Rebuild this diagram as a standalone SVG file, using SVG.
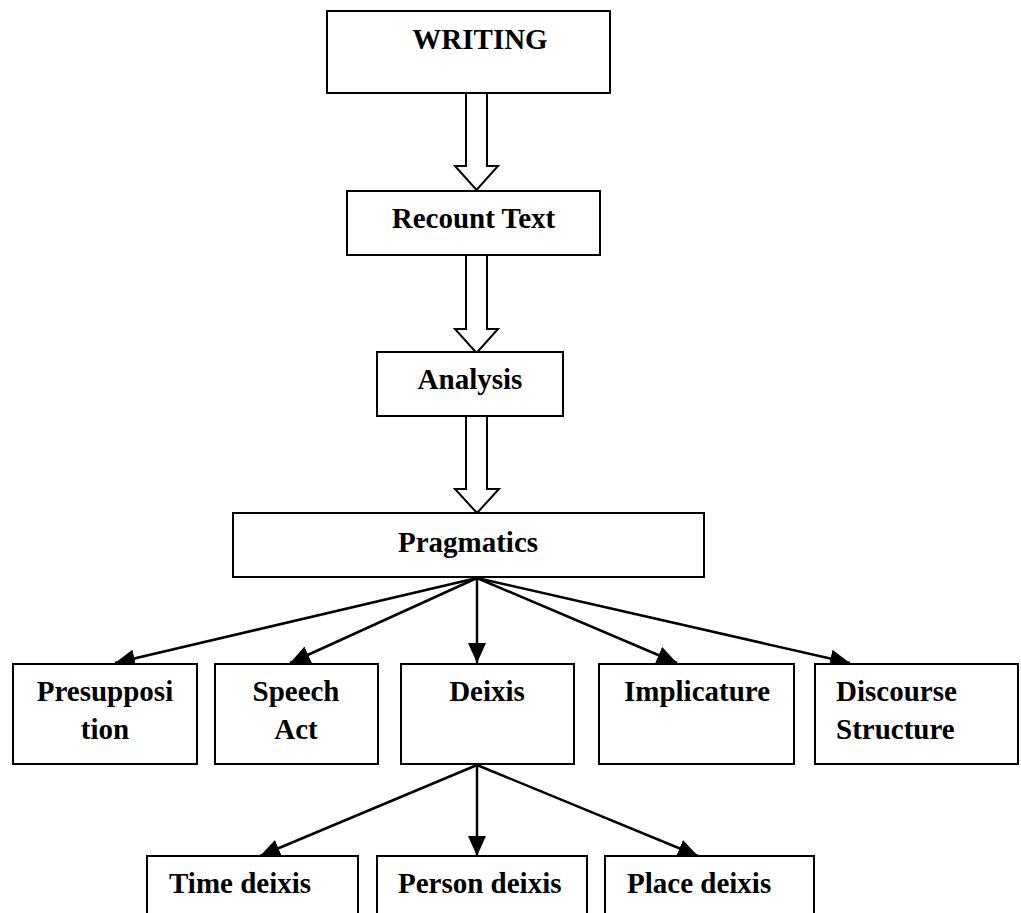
<svg xmlns="http://www.w3.org/2000/svg" width="1021" height="913" viewBox="0 0 1021 913">
<style>
.box{fill:#fff;stroke:#000;stroke-width:2}
.t{font-family:"Liberation Serif","Times New Roman",serif;font-weight:bold;font-size:29px;fill:#000}
.m{text-anchor:middle}
.hollow{fill:#fff;stroke:#000;stroke-width:2;stroke-linejoin:miter}
.ln{stroke:#000;stroke-width:2.5;fill:none}
</style>
<defs>
<marker id="ah" markerUnits="userSpaceOnUse" markerWidth="22" markerHeight="18" refX="20" refY="9" orient="auto">
<path d="M0,0 L20,9 L0,18 Z" fill="#000"/>
</marker>
</defs>
<rect width="1021" height="913" fill="#fff"/>
<g id="connectors">
<polygon class="hollow" points="466,93 487,93 487,166 498,166 476.5,190 455,166 466,166"/>
<polygon class="hollow" points="466,255 487,255 487,329 498,329 476.5,353 455,329 466,329"/>
<polygon class="hollow" points="466,416 487,416 487,489 499,489 477,513 455,489 466,489"/>
<line class="ln" x1="477" y1="578" x2="115" y2="663" marker-end="url(#ah)"/>
<line class="ln" x1="477" y1="578" x2="290" y2="663" marker-end="url(#ah)"/>
<line class="ln" x1="477" y1="578" x2="477" y2="663" marker-end="url(#ah)"/>
<line class="ln" x1="477" y1="578" x2="677" y2="663" marker-end="url(#ah)"/>
<line class="ln" x1="477" y1="578" x2="850" y2="663" marker-end="url(#ah)"/>
<line class="ln" x1="477" y1="765" x2="260" y2="856" marker-end="url(#ah)"/>
<line class="ln" x1="477" y1="765" x2="477" y2="856" marker-end="url(#ah)"/>
<line class="ln" x1="477" y1="765" x2="698" y2="856" marker-end="url(#ah)"/>
</g>
<g id="writing"><rect class="box" x="327" y="11" width="283" height="82"/><text class="t m" x="480" y="49">WRITING</text></g>
<g id="recount"><rect class="box" x="347" y="191" width="253" height="64"/><text class="t m" x="473.5" y="228">Recount Text</text></g>
<g id="analysis"><rect class="box" x="377" y="352" width="186" height="64"/><text class="t m" x="470" y="389">Analysis</text></g>
<g id="pragmatics"><rect class="box" x="233" y="513" width="471" height="64"/><text class="t m" x="468" y="552">Pragmatics</text></g>
<g id="presupposition"><rect class="box" x="13" y="664" width="184" height="100"/><text class="t m" x="105" y="701">Presupposi</text><text class="t m" x="105" y="739">tion</text></g>
<g id="speech-act"><rect class="box" x="215" y="664" width="163" height="100"/><text class="t m" x="296" y="701">Speech</text><text class="t m" x="296" y="739">Act</text></g>
<g id="deixis"><rect class="box" x="401" y="664" width="173" height="100"/><text class="t m" x="487" y="701">Deixis</text></g>
<g id="implicature"><rect class="box" x="599" y="664" width="195" height="100"/><text class="t m" x="697" y="701">Implicature</text></g>
<g id="discourse"><rect class="box" x="815" y="664" width="203" height="100"/><text class="t" x="836" y="701">Discourse</text><text class="t" x="836" y="739">Structure</text></g>
<g id="time-deixis"><rect class="box" x="147" y="856" width="211" height="70"/><text class="t" x="169" y="893">Time deixis</text></g>
<g id="person-deixis"><rect class="box" x="377" y="856" width="210" height="70"/><text class="t" x="398" y="893">Person deixis</text></g>
<g id="place-deixis"><rect class="box" x="605" y="856" width="209" height="70"/><text class="t" x="627" y="893">Place deixis</text></g>
</svg>
